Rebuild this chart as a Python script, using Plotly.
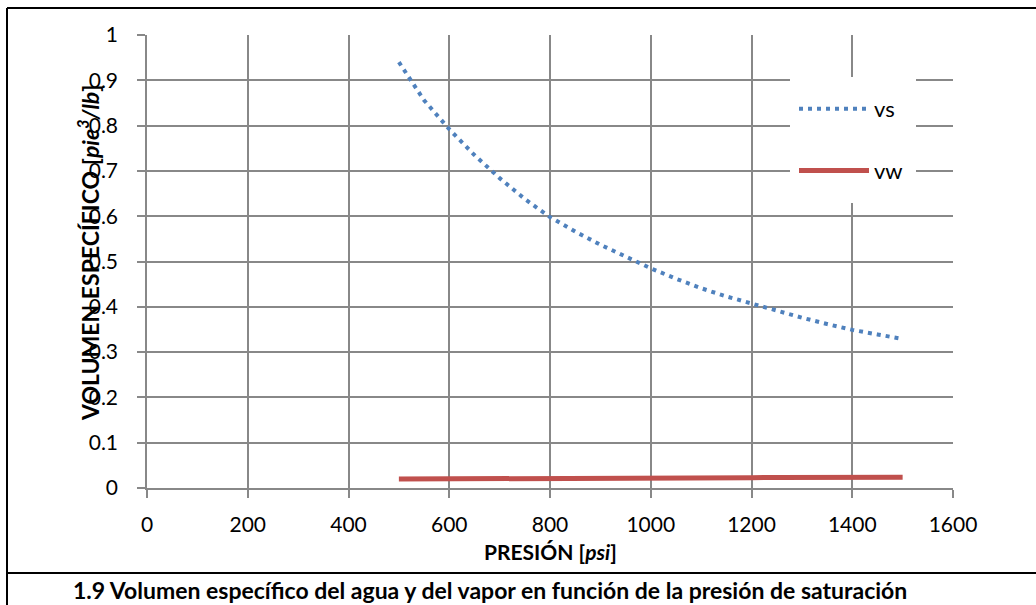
import plotly.graph_objects as go

# ---- data ----
presion = [500, 550, 600, 650, 700, 750, 800, 850, 900, 950, 1000,
           1050, 1100, 1150, 1200, 1250, 1300, 1350, 1400, 1450, 1500]
vs = [0.940, 0.856, 0.792, 0.735, 0.684, 0.638, 0.598, 0.566, 0.537, 0.510, 0.485,
      0.462, 0.441, 0.423, 0.407, 0.391, 0.376, 0.362, 0.349, 0.339, 0.329]
vw = [0.0197, 0.0201, 0.0204, 0.0207, 0.0210, 0.0212, 0.0215, 0.0217, 0.0219, 0.0221, 0.0222,
      0.0224, 0.0226, 0.0227, 0.0229, 0.0230, 0.0231, 0.0232, 0.0233, 0.0234, 0.0235]
x_ticks = [0, 200, 400, 600, 800, 1000, 1200, 1400, 1600]
x_labels = ["0", "200", "400", "600", "800", "1000", "1200", "1400", "1600"]
y_ticks = [0, 0.1, 0.2, 0.3, 0.4, 0.5, 0.6, 0.7, 0.8, 0.9, 1]
y_labels = ["0", "0.1", "0.2", "0.3", "0.4", "0.5", "0.6", "0.7", "0.8", "0.9", "1"]

FONT = "Lato"
GRID = "#888888"

fig = go.Figure()
fig.add_trace(go.Scatter(x=presion, y=vs, mode="lines", name="vs", legendgroup="a",
                         line=dict(color="#4F81BD", width=4, dash="4px,5px")))
fig.add_trace(go.Scatter(x=presion, y=vw, mode="lines", name="vw", legendgroup="b",
                         line=dict(color="#C0504D", width=5)))

W, H = 1036, 605
L, R, T, B = 147, 953, 35, 488
def px(xp):
    return (xp - L) / (R - L)
def py(yp):
    return (B - yp) / (B - T)

fig.update_layout(
    width=W, height=H,
    margin=dict(l=L, r=W - R, t=T, b=H - B),
    paper_bgcolor="white", plot_bgcolor="white",
    font=dict(family=FONT, size=21, color="black"),
    showlegend=True,
    legend=dict(x=px(794), y=py(88), xanchor="left", yanchor="top",
                bgcolor="rgba(0,0,0,0)", font=dict(size=22, family=FONT),
                tracegroupgap=30, traceorder="grouped", itemwidth=70),
    xaxis=dict(range=[0, 1600], tickvals=x_ticks, ticktext=x_labels,
               showgrid=True, gridcolor=GRID, gridwidth=1.5,
               showline=True, linecolor=GRID, linewidth=1.5,
               ticks="outside", ticklen=8, tickcolor=GRID, tickwidth=1.5,
               ticklabelstandoff=9, zeroline=False,
               tickfont=dict(size=21, family=FONT)),
    yaxis=dict(range=[0, 1], tickvals=y_ticks, ticktext=y_labels,
               showgrid=True, gridcolor=GRID, gridwidth=1.5,
               showline=True, linecolor=GRID, linewidth=1.5,
               ticks="outside", ticklen=8, tickcolor=GRID, tickwidth=1.5,
               ticklabelstandoff=15, zeroline=False,
               tickfont=dict(size=21, family=FONT)),
)

# legend background box (covers gridlines; no data passes here)
fig.add_shape(type="rect", xref="paper", yref="paper",
              x0=px(790), x1=px(916), y0=py(203), y1=py(77),
              fillcolor="white", line=dict(width=0), layer="above")

# outer frame lines
fig.add_shape(type="line", xref="paper", yref="paper", x0=px(7), x1=px(1036), y0=py(8), y1=py(8),
              line=dict(color="black", width=2), layer="above")
fig.add_shape(type="line", xref="paper", yref="paper", x0=px(7), x1=px(7), y0=py(8), y1=py(605),
              line=dict(color="black", width=2), layer="above")
fig.add_shape(type="line", xref="paper", yref="paper", x0=px(7), x1=px(1036), y0=py(573), y1=py(573),
              line=dict(color="black", width=2), layer="above")

# axis titles
fig.add_annotation(text="<b>PRESIÓN [<i>psi</i>]</b>", xref="paper", yref="paper",
                   x=px(550), y=py(551), xanchor="center", yanchor="middle",
                   showarrow=False, font=dict(size=21, family=FONT))
fig.add_annotation(text="<b>VOLUMEN ESPECÍFICO [<i>pie<sup>3</sup>/lb</i>]</b>", xref="paper", yref="paper",
                   x=px(88), y=py(253), xanchor="center", yanchor="middle", textangle=-90,
                   showarrow=False, font=dict(size=23, family=FONT))
# caption
fig.add_annotation(text="<b>1.9 Volumen específico del agua y del vapor en función de la presión de saturación</b>",
                   xref="paper", yref="paper", x=px(490), y=py(590), xanchor="center", yanchor="middle",
                   showarrow=False, font=dict(size=23, family=FONT))

fig.write_html("out.html", post_script="document.body.style.margin='0';",
               config={"displayModeBar": False})
